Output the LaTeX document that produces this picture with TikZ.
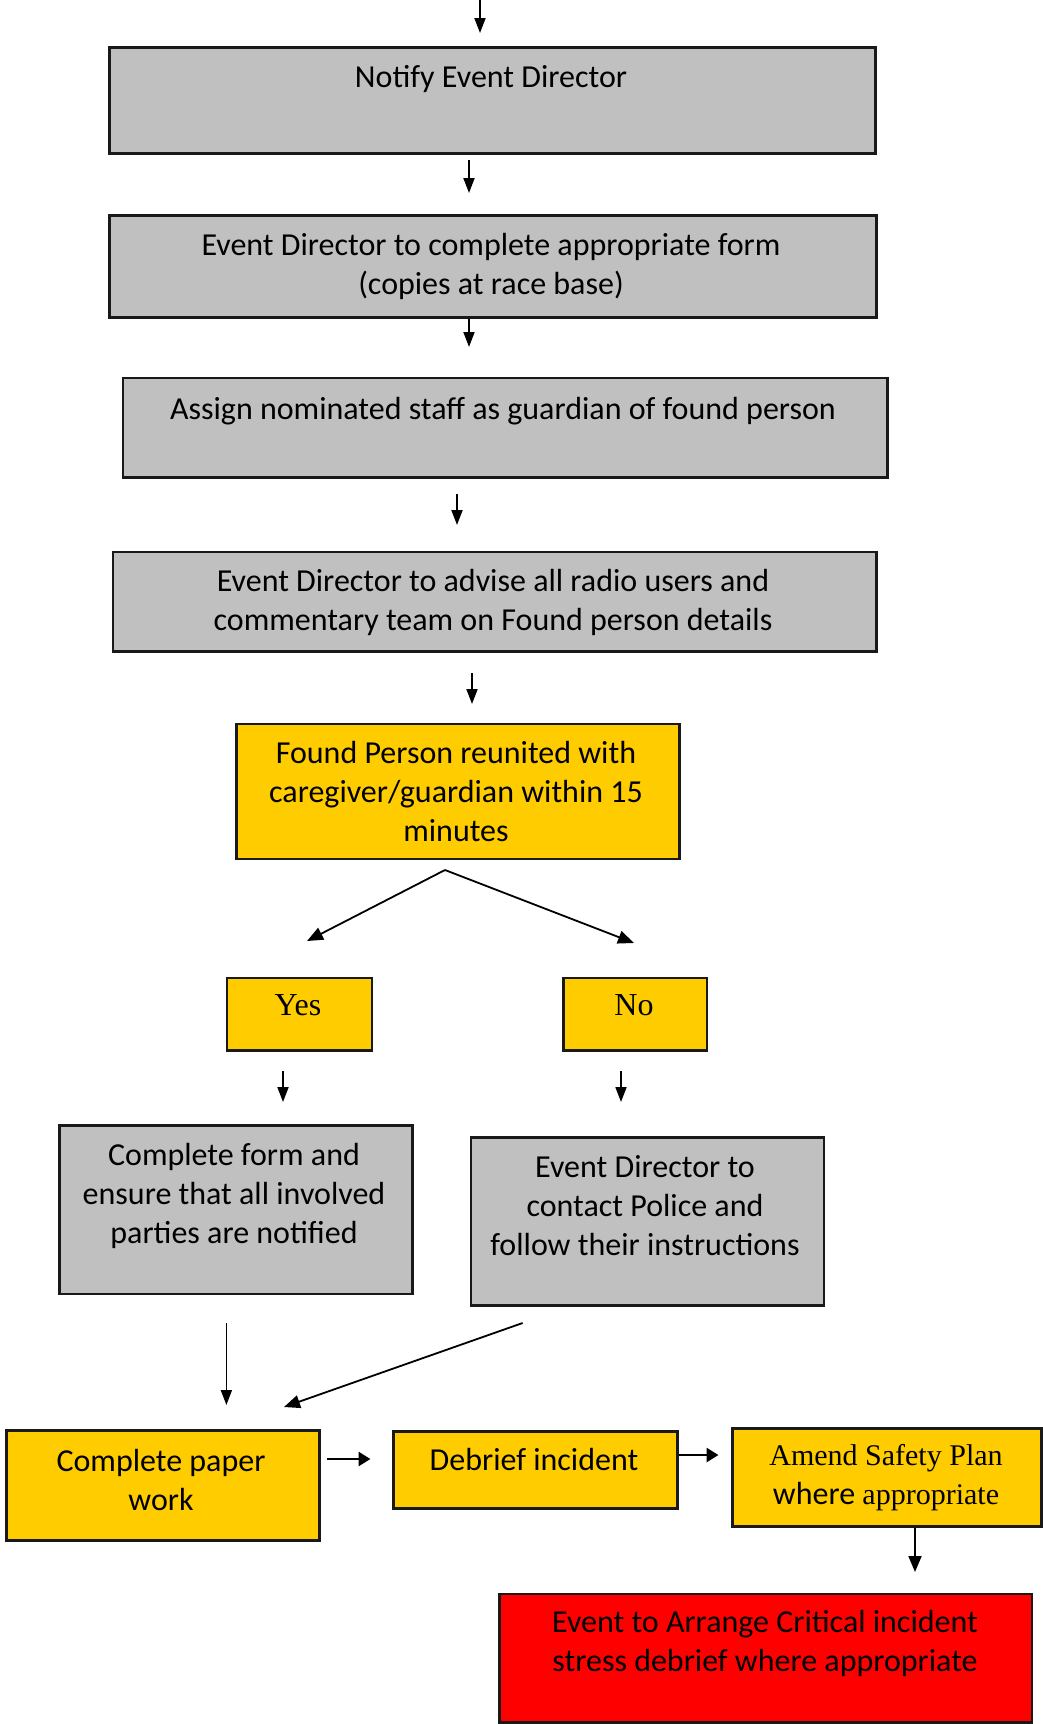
\documentclass[tikz,border=0pt]{standalone}
\usepackage{fontspec}
\setmainfont{Carlito}
\newfontfamily\garfont{Liberation Serif}
\usetikzlibrary{arrows.meta}
\definecolor{boxgray}{RGB}{192,192,192}
\definecolor{boxyellow}{RGB}{255,204,0}
\definecolor{boxred}{RGB}{255,0,0}
\begin{document}
\begin{tikzpicture}[x=1pt,y=-1pt,
  box/.style={draw=black!90, line width=2.5pt, rectangle, inner sep=0pt, anchor=north west},
  graybox/.style={box, fill=boxgray},
  yellowbox/.style={box, fill=boxyellow},
  redbox/.style={box, fill=boxred},
  size/.style 2 args={minimum width=#1, minimum height=#2},
  % multi-line labels are placed by the baseline of their last line
  lbl/.style={font=\fontsize{32}{39}\selectfont, align=center, anchor=base, inner sep=0pt},
  serif lbl/.style={font=\garfont\fontsize{30}{39}\selectfont, anchor=base, inner sep=0pt},
  flow/.style={line width=1.8pt, -{Triangle[length=15pt,width=11pt]}},
  bigflow/.style={line width=1.8pt, -{Triangle[length=16pt,width=13pt]}},
  thickflow/.style={line width=2.8pt, -{Triangle[length=12pt,width=14pt]}},
]
\useasboundingbox (0,0) rectangle (1042,1724);

% boxes
\node[graybox, size={766}{106}] (notify) at (108,46) {};
\node[graybox, size={767}{102}] (form) at (108,214) {};
\node[graybox, size={764.5}{99.3}] (assign) at (121.5,376.7) {};
\node[graybox, size={763.5}{99.3}] (advise) at (111.5,550.7) {};
\node[yellowbox, size={443}{135}] (reunite) at (235,722.7) {};
\node[yellowbox, size={144.7}{72.3}] (yes) at (225.8,976.7) {};
\node[yellowbox, size={143.4}{72.3}] (no) at (562.4,976.7) {};
\node[graybox, size={352.6}{168.4}] (notified) at (58.4,1124.3) {};
\node[graybox, size={353.2}{168.3}] (police) at (469.5,1136) {};
\node[yellowbox, size={312.7}{110}] (paper) at (5.3,1429.3) {};
\node[yellowbox, size={283.6}{77}] (debrief) at (392.4,1430) {};
\node[yellowbox, size={309}{97.7}] (amend) at (731,1427.3) {};
\node[redbox, size={532.5}{128.3}] (stress) at (498,1592.7) {};

% texts
\node[lbl] (notifyT) at (491,87.3) {Notify Event Director};
\node[lbl] (formT) at (491,294) {Event Director to complete appropriate form\\(copies at race base)};
\node[lbl] (assignT) at (503,419.3) {Assign nominated staff as guardian of found person};
\node[lbl] (adviseT) at (493,630.7) {Event Director to advise all radio users and\\commentary team on Found person details};
\node[lbl] (reuniteT) at (456,841.3) {Found Person reunited with\\caregiver/guardian within 15\\minutes};
\node[serif lbl, font=\garfont\fontsize{32}{39}\selectfont] (yesT) at (298,1015.7) {Yes};
\node[serif lbl, font=\garfont\fontsize{32}{39}\selectfont] (noT) at (634,1015.7) {No};
\node[lbl] (notifiedT) at (234,1243) {Complete form and\\ensure that all involved\\parties are notified};
\node[lbl] (policeT) at (645,1255.7) {Event Director to\\contact Police and\\follow their instructions};
\node[lbl] (paperT) at (161,1510) {Complete paper\\work};
\node[lbl] (debriefT) at (534,1470.7) {Debrief incident};
\node[serif lbl] (amendT) at (886,1465.7) {Amend Safety Plan};
\node[lbl] (amendT2) at (886,1504) {where {\garfont\fontsize{30}{39}\selectfont appropriate}};
\node[lbl] (stressT) at (765,1671.7) {Event to Arrange Critical incident\\stress debrief where appropriate};

% connector ends
\coordinate (in0) at (480,0);
\coordinate (in1) at (480,33);
\coordinate (c1s) at (469,160);
\coordinate (c1e) at (469,193);
\coordinate (c2x) at (469,347);
\coordinate (c3s) at (457,494);
\coordinate (c3e) at (457,525);
\coordinate (c4s) at (472,673);
\coordinate (c4e) at (472,704);
\coordinate (split) at (445,870);
\coordinate (splitL) at (307,941);
\coordinate (splitR) at (634,943);
\coordinate (ys) at (283,1071);
\coordinate (ye) at (283,1102);
\coordinate (ns) at (621,1071);
\coordinate (ne) at (621,1102);
\coordinate (ls) at (226.4,1323);
\coordinate (le) at (226.4,1405);
\coordinate (rs) at (522.6,1323);
\coordinate (re) at (284,1407);
\coordinate (h1s) at (327,1459);
\coordinate (h1e) at (370.5,1459);
\coordinate (h2e) at (718.5,1455);
\coordinate (v5) at (915,1572);

% connectors
\draw[flow] (in0) -- (in1);
\draw[flow] (c1s) -- (c1e);
\draw[flow] (form.south -| c2x) -- (c2x);
\draw[flow] (c3s) -- (c3e);
\draw[flow] (c4s) -- (c4e);
\draw[bigflow] (split) -- (splitL);
\draw[bigflow] (split) -- (splitR);
\draw[flow] (ys) -- (ye);
\draw[flow] (ns) -- (ne);
\draw[flow] (ls) -- (le);
\draw[bigflow] (rs) -- (re);
\draw[thickflow] (h1s) -- (h1e);
\draw[thickflow] (debrief.east |- h2e) -- (h2e);
\draw[bigflow] (amend.south -| v5) -- (v5);
\end{tikzpicture}
\end{document}
